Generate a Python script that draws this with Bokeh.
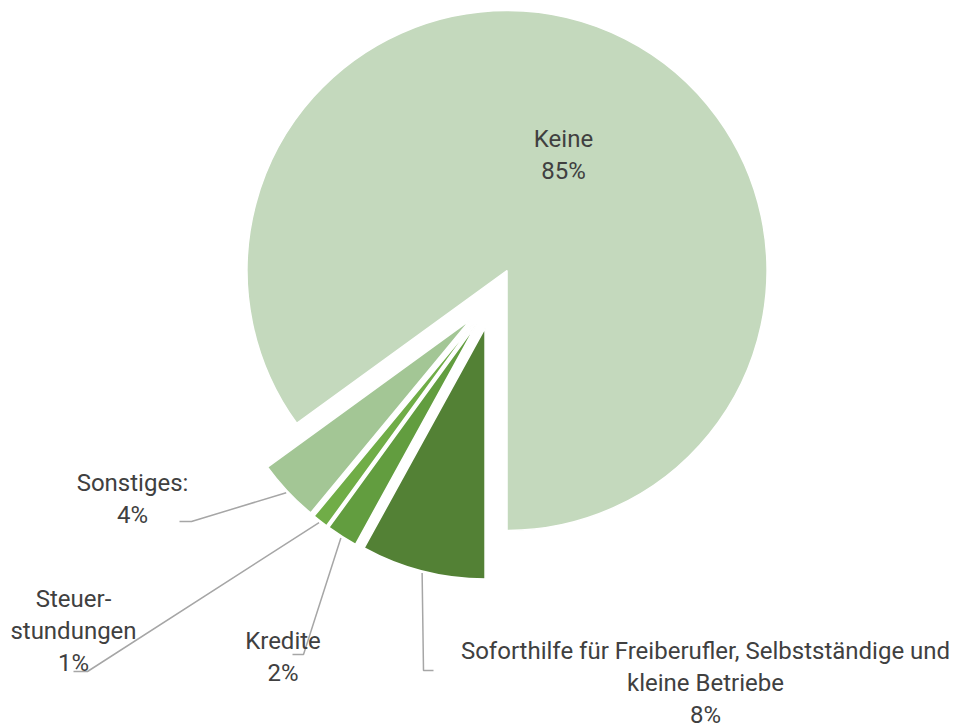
import numpy as np
from bokeh.plotting import figure
from bokeh.models import Range1d, ColumnDataSource
from bokeh.core.properties import value
from bokeh.embed import file_html
from bokeh.resources import INLINE

# ---------------- data ----------------
categories = [
    "Soforthilfe für Freiberufler, Selbstständige und\nkleine Betriebe",
    "Kredite",
    "Steuer-\nstundungen",
    "Sonstiges:",
    "Keine",
]
values = [8, 2, 1, 4, 85]

# ---------------- styles / layout ----------------
colors = ["#538135", "#629D3F", "#70AD47", "#A3C695", "#C4D9BD"]
W, H = 956, 728
X0, Y0 = 0, 0                      # picture offset of the canvas
start_deg = 180.0                  # first slice starts at 6 o'clock, clockwise
pie_cx, pie_cy = 492.0, 298.5      # screen px
explode = [30, 30, 30, 30, 32]
radii = [251, 251, 251, 251, 260]
label_pos = [(705, 650), (282.5, 640), (73, 598), (132, 482), (563, 138)]
leader_elbow = [(423, 670), (303, 654), (87, 671), (191, 521), None]
leader_end = [(433, 670), (292, 654), (73, 671), (179, 521), None]
line_gap = 32
font = "Roboto"
font_size = "24px"
text_color = "#404040"
leader_color = "#A6A6A6"

p = figure(width=W, height=H, output_backend="svg", toolbar_location=None,
           x_range=Range1d(X0, X0 + W), y_range=Range1d(-(Y0 + H), -Y0),
           min_border=0, outline_line_color=None)
p.axis.visible = False
p.grid.visible = False
p.background_fill_color = "white"
p.border_fill_color = "white"

total = float(sum(values))
cum = np.cumsum([0] + values[:-1])
theta_s = start_deg + 360.0 * cum / total
theta_e = theta_s + 360.0 * np.array(values) / total
theta_m = (theta_s + theta_e) / 2.0

def dirv(theta_deg):
    t = np.radians(theta_deg)
    return np.sin(t), -np.cos(t)   # screen direction (y down)

cx, cy = [], []
for th, d in zip(theta_m, explode):
    dx, dy = dirv(th)
    cx.append(pie_cx + d * dx)
    cy.append(pie_cy + d * dy)

src = ColumnDataSource(dict(
    x=cx, y=[-v for v in cy], r=radii,
    sa=np.radians(90.0 - theta_s), ea=np.radians(90.0 - theta_e),
    color=colors, cat=categories, val=values,
))
p.wedge(x="x", y="y", radius="r", start_angle="sa", end_angle="ea",
        direction="clock", fill_color="color", line_color="white",
        line_width=1.5, source=src)

# leader lines
for i in range(len(values)):
    if leader_elbow[i] is None:
        continue
    dx, dy = dirv(theta_m[i])
    sx = cx[i] + (radii[i] + 2) * dx
    sy = cy[i] + (radii[i] + 2) * dy
    xs = [sx, leader_elbow[i][0], leader_end[i][0]]
    ys = [-sy, -leader_elbow[i][1], -leader_end[i][1]]
    p.line(xs, ys, line_color=leader_color, line_width=1.5)

# labels
tx, ty, tt = [], [], []
for i, (cat, v) in enumerate(zip(categories, values)):
    lines = cat.split("\n") + [f"{v}%"]
    lx, ly = label_pos[i]
    for j, ln in enumerate(lines):
        tx.append(lx)
        ty.append(-(ly + j * line_gap))
        tt.append(ln)
p.text(x=tx, y=ty, text=tt, text_align="center", text_baseline="middle",
       text_font=value(font), text_font_size=font_size, text_color=text_color)

open("out.html", "w").write(file_html(p, INLINE))
